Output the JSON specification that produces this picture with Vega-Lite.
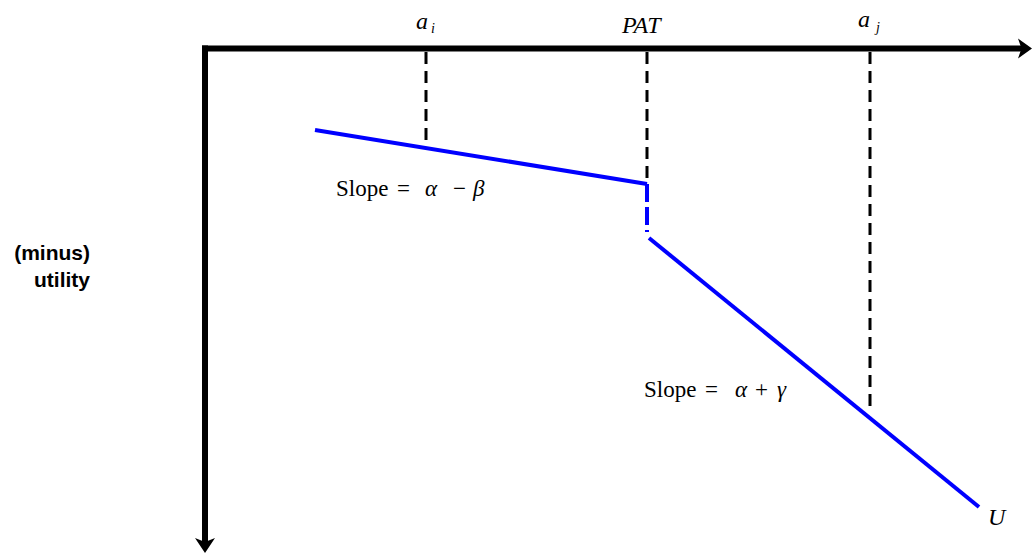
{
  "$schema": "https://vega.github.io/schema/vega-lite/v6.json",
  "width": 1032,
  "height": 554,
  "padding": 0,
  "autosize": {"type": "fit", "contains": "padding"},
  "background": "white",
  "config": {"view": {"stroke": null}},
  "encoding": {
    "x": {"type": "quantitative", "scale": {"domain": [0, 1032], "nice": false, "zero": false}, "axis": null},
    "y": {"type": "quantitative", "scale": {"domain": [0, 554], "nice": false, "zero": false, "reverse": true}, "axis": null}
  },
  "layer": [
    {
      "data": {"values": [
        {"x": 202, "y": 48.5, "x2": 1022, "y2": 48.5},
        {"x": 205, "y": 45.5, "x2": 205, "y2": 542}
      ]},
      "mark": {"type": "rule", "color": "black", "strokeWidth": 6, "strokeCap": "butt"},
      "encoding": {"x": {"field": "x"}, "y": {"field": "y"}, "x2": {"field": "x2"}, "y2": {"field": "y2"}}
    },
    {
      "data": {"values": [{"x": 1025, "y": 48.5}]},
      "mark": {"type": "point", "filled": true, "color": "black", "opacity": 1, "strokeWidth": 0, "size": 400, "shape": "M0.7,0 L-0.7,-1 L-0.35,0 L-0.7,1 Z"},
      "encoding": {"x": {"field": "x"}, "y": {"field": "y"}}
    },
    {
      "data": {"values": [{"x": 205, "y": 545.5}]},
      "mark": {"type": "point", "filled": true, "color": "black", "opacity": 1, "strokeWidth": 0, "size": 400, "shape": "M0,0.75 L-1,-0.75 L0,-0.35 L1,-0.75 Z"},
      "encoding": {"x": {"field": "x"}, "y": {"field": "y"}}
    },
    {
      "data": {"values": [
        {"x": 426, "y": 52, "y2": 147},
        {"x": 647, "y": 52, "y2": 183},
        {"x": 870, "y": 52, "y2": 411}
      ]},
      "mark": {"type": "rule", "color": "black", "strokeWidth": 3, "strokeDash": [12, 7], "strokeCap": "butt"},
      "encoding": {"x": {"field": "x"}, "y": {"field": "y"}, "y2": {"field": "y2"}}
    },
    {
      "data": {"values": [
        {"x": 315, "y": 130, "x2": 647, "y2": 184},
        {"x": 649, "y": 238, "x2": 979, "y2": 507}
      ]},
      "mark": {"type": "rule", "color": "#0000FF", "strokeWidth": 4, "strokeCap": "butt"},
      "encoding": {"x": {"field": "x"}, "y": {"field": "y"}, "x2": {"field": "x2"}, "y2": {"field": "y2"}}
    },
    {
      "data": {"values": [{"x": 647, "y": 184, "y2": 232}]},
      "mark": {"type": "rule", "color": "#0000FF", "strokeWidth": 4, "strokeDash": [18, 5], "strokeCap": "butt"},
      "encoding": {"x": {"field": "x"}, "y": {"field": "y"}, "y2": {"field": "y2"}}
    },
    {
      "data": {"values": [
        {"x": 416, "y": 29, "label": "a"},
        {"x": 858, "y": 27, "label": "a"},
        {"x": 622, "y": 33, "label": "PAT"},
        {"x": 988, "y": 525, "label": "U"}
      ]},
      "mark": {"type": "text", "font": "Liberation Serif", "fontStyle": "italic", "fontSize": 24, "align": "left", "baseline": "alphabetic", "color": "black"},
      "encoding": {"x": {"field": "x"}, "y": {"field": "y"}, "text": {"field": "label"}}
    },
    {
      "data": {"values": [
        {"x": 431, "y": 33, "label": "i"},
        {"x": 876, "y": 32, "label": "j"}
      ]},
      "mark": {"type": "text", "font": "Liberation Serif", "fontStyle": "italic", "fontSize": 14, "align": "left", "baseline": "alphabetic", "color": "black"},
      "encoding": {"x": {"field": "x"}, "y": {"field": "y"}, "text": {"field": "label"}}
    },
    {
      "data": {"values": [
        {"x": 336, "y": 196, "label": "Slope"},
        {"x": 397, "y": 196, "label": "="},
        {"x": 453, "y": 196, "label": "−"},
        {"x": 644, "y": 397, "label": "Slope"},
        {"x": 705, "y": 397, "label": "="},
        {"x": 755, "y": 397, "label": "+"}
      ]},
      "mark": {"type": "text", "font": "Liberation Serif", "fontSize": 23, "align": "left", "baseline": "alphabetic", "color": "black"},
      "encoding": {"x": {"field": "x"}, "y": {"field": "y"}, "text": {"field": "label"}}
    },
    {
      "data": {"values": [
        {"x": 425, "y": 196, "label": "α"},
        {"x": 473, "y": 196, "label": "β"},
        {"x": 735, "y": 397, "label": "α"},
        {"x": 777, "y": 397, "label": "γ"}
      ]},
      "mark": {"type": "text", "font": "Liberation Serif", "fontStyle": "italic", "fontSize": 23, "align": "left", "baseline": "alphabetic", "color": "black"},
      "encoding": {"x": {"field": "x"}, "y": {"field": "y"}, "text": {"field": "label"}}
    },
    {
      "data": {"values": [
        {"x": 90, "y": 260, "label": "(minus)"},
        {"x": 90, "y": 287, "label": "utility"}
      ]},
      "mark": {"type": "text", "font": "Liberation Sans", "fontWeight": "bold", "fontSize": 21, "align": "right", "baseline": "alphabetic", "color": "black"},
      "encoding": {"x": {"field": "x"}, "y": {"field": "y"}, "text": {"field": "label"}}
    }
  ]
}
